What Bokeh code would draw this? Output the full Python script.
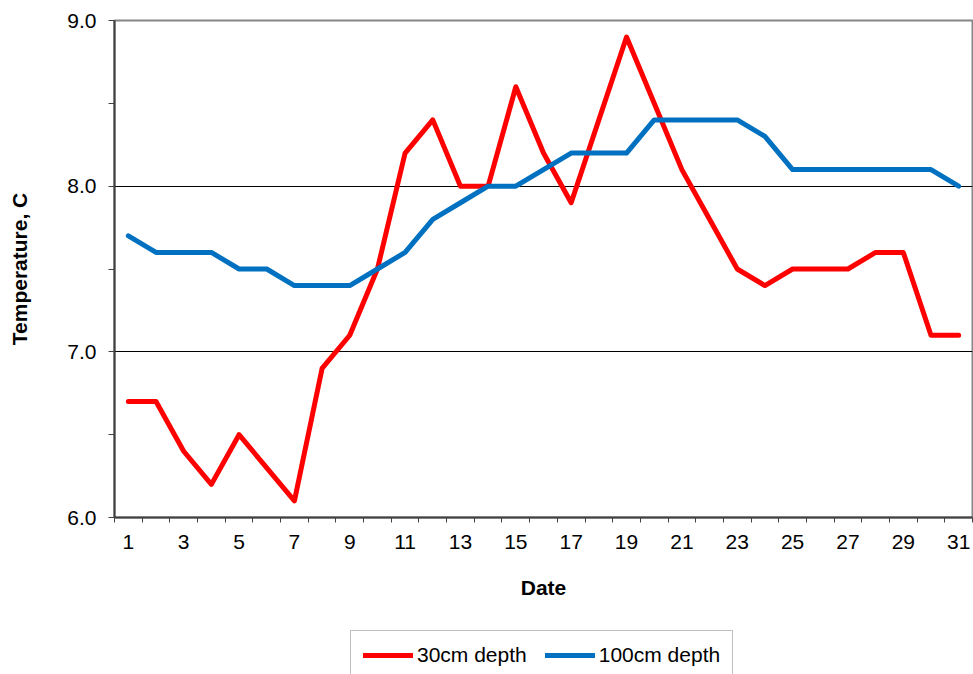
from bokeh.plotting import figure
from bokeh.models import (Range1d, FixedTicker, Legend, LegendItem)
from bokeh.layouts import column
from bokeh.embed import file_html
from bokeh.resources import INLINE

# ---- data ----
days = list(range(1, 32))
temp_30cm = [6.7, 6.7, 6.4, 6.2, 6.5, 6.3, 6.1, 6.9, 7.1, 7.5,
             8.2, 8.4, 8.0, 8.0, 8.6, 8.2, 7.9, 8.4, 8.9, 8.5,
             8.1, 7.8, 7.5, 7.4, 7.5, 7.5, 7.5, 7.6, 7.6, 7.1, 7.1]
temp_100cm = [7.7, 7.6, 7.6, 7.6, 7.5, 7.5, 7.4, 7.4, 7.4, 7.5,
              7.6, 7.8, 7.9, 8.0, 8.0, 8.1, 8.2, 8.2, 8.2, 8.4,
              8.4, 8.4, 8.4, 8.3, 8.1, 8.1, 8.1, 8.1, 8.1, 8.1, 8.0]
series_names = ["30cm depth", "100cm depth"]
series_colors = ["#FF0000", "#0070C0"]
x_tick_days = [1, 3, 5, 7, 9, 11, 13, 15, 17, 19, 21, 23, 25, 27, 29, 31]
y_ticks = [6, 7, 8, 9]
y_tick_labels = ["6.0", "7.0", "8.0", "9.0"]
y_minor = [6.5, 7.5, 8.5]
y_grid = [7, 8]

FONT = "Liberation Sans"
FS = "21px"

p = figure(width=973, height=628, output_backend="svg", toolbar_location=None,
           x_range=Range1d(0.5, 31.5), y_range=Range1d(6, 9),
           min_border_left=114, min_border_right=1, min_border_top=20,
           min_border_bottom=111)
p.background_fill_color = "white"
p.border_fill_color = "white"
p.outline_line_color = "#868686"
p.outline_line_width = 2

# x axis
boundaries = [d - 0.5 for d in days] + [days[-1] + 0.5]
p.xaxis.ticker = FixedTicker(ticks=x_tick_days, minor_ticks=boundaries)
p.xaxis.major_label_overrides = {d: str(d) for d in x_tick_days}
p.xaxis.major_tick_line_color = None
p.xaxis.major_tick_out = 5
p.xaxis.major_tick_in = 0
p.xaxis.minor_tick_out = 5
p.xaxis.minor_tick_in = 0
p.xaxis.minor_tick_line_color = "#404040"
p.xaxis.major_label_standoff = 12
p.xaxis.axis_label = "Date"
p.xaxis.axis_label_standoff = 24

# y axis
p.yaxis.ticker = FixedTicker(ticks=y_ticks, minor_ticks=y_minor)
p.yaxis.major_label_overrides = dict(zip(y_ticks, y_tick_labels))
p.yaxis.major_tick_out = 6
p.yaxis.major_tick_in = 0
p.yaxis.minor_tick_out = 6
p.yaxis.minor_tick_in = 0
p.yaxis.major_tick_line_color = "#404040"
p.yaxis.minor_tick_line_color = "#404040"
p.yaxis.major_label_standoff = 12
p.yaxis.axis_label = "Temperature, C"
p.yaxis.axis_label_standoff = 33

for ax in (p.xaxis, p.yaxis):
    ax.axis_line_color = "#404040"
    ax.axis_line_width = 2
    ax.major_label_text_font = FONT
    ax.major_label_text_font_size = FS
    ax.major_label_text_color = "black"
    ax.axis_label_text_font = FONT
    ax.axis_label_text_font_size = FS
    ax.axis_label_text_font_style = "bold"
    ax.axis_label_text_color = "black"

p.xgrid.visible = False
p.ygrid.ticker = FixedTicker(ticks=y_grid)
p.ygrid.grid_line_color = "black"
p.ygrid.grid_line_width = 1

p.line(days, temp_30cm, line_color=series_colors[0], line_width=5,
       line_join="round", line_cap="round")
p.line(days, temp_100cm, line_color=series_colors[1], line_width=5,
       line_join="round", line_cap="round")

# ---- legend strip (separate figure below the chart) ----
p2 = figure(width=973, height=46, output_backend="svg", toolbar_location=None,
            x_range=Range1d(0, 1), y_range=Range1d(0, 1),
            min_border_left=0, min_border_right=0, min_border_top=0,
            min_border_bottom=0)
p2.axis.visible = False
p2.grid.visible = False
p2.outline_line_color = None
p2.background_fill_color = "white"
p2.border_fill_color = "white"
l30 = p2.line(days, temp_30cm, line_color=series_colors[0], line_width=5,
              line_cap="round", visible=False)
l100 = p2.line(days, temp_100cm, line_color=series_colors[1], line_width=5,
               line_cap="round", visible=False)

legend = Legend(items=[LegendItem(label=series_names[0], renderers=[l30]),
                       LegendItem(label=series_names[1], renderers=[l100])],
                orientation="horizontal", location=(236, -6))
legend.label_text_font = FONT
legend.label_text_font_size = FS
legend.label_text_line_height = 1.0
legend.label_text_color = "black"
legend.glyph_width = 50
legend.glyph_height = 16
legend.label_height = 16
legend.label_standoff = 4
legend.spacing = 18
legend.padding = 12
legend.margin = 0
legend.border_line_color = "#808080"
legend.border_line_width = 1
legend.background_fill_color = "white"
legend.background_fill_alpha = 1
p2.add_layout(legend, "center")

layout = column(p, p2, spacing=0)
open("out.html", "w").write(file_html(layout, INLINE))
